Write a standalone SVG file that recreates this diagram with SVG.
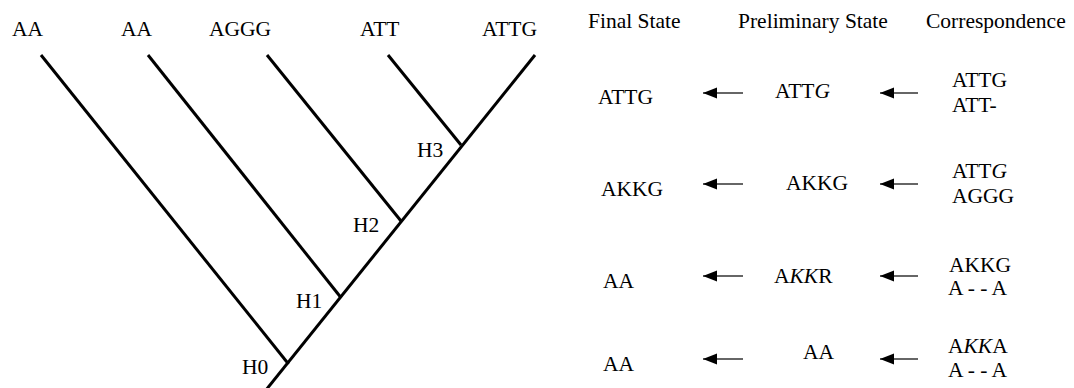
<svg xmlns="http://www.w3.org/2000/svg" width="1074" height="388" viewBox="0 0 1074 388">
<style>
.t text{font-size:21.5px;fill:#000}
.i{font-style:italic}
.br{stroke:#000;stroke-width:3;fill:none}
.ar{stroke:#333;stroke-width:1.6;fill:none;marker-end:url(#ah)}
</style>
<defs>
<marker id="ah" markerUnits="userSpaceOnUse" markerWidth="16" markerHeight="14" refX="14" refY="6" orient="auto">
<path d="M0,0.5 L14,6 L0,11.5 Z" fill="#000"/>
</marker>
</defs>
<rect width="1074" height="388" fill="#fff"/>
<g id="connectors">
<line class="br" x1="535" y1="55" x2="266" y2="390"/>
<line class="br" x1="41" y1="55" x2="288.5" y2="364"/>
<line class="br" x1="148" y1="55" x2="340.5" y2="297"/>
<line class="br" x1="267" y1="55" x2="401" y2="221"/>
<line class="br" x1="388" y1="55" x2="461" y2="145"/>
<line class="ar" x1="743" y1="93" x2="703" y2="93"/>
<line class="ar" x1="918" y1="93" x2="880" y2="93"/>
<line class="ar" x1="743" y1="184" x2="703" y2="184"/>
<line class="ar" x1="918" y1="184" x2="880" y2="184"/>
<line class="ar" x1="743" y1="276" x2="703" y2="276"/>
<line class="ar" x1="918" y1="276" x2="880" y2="276"/>
<line class="ar" x1="743" y1="359" x2="703" y2="359"/>
<line class="ar" x1="918" y1="359" x2="880" y2="359"/>
</g>
<g class="t" font-family="Liberation Serif, Times New Roman, serif">
<g id="leaf1"><text x="12" y="36">AA</text></g>
<g id="leaf2"><text x="121" y="36">AA</text></g>
<g id="leaf3"><text x="209" y="36">AGGG</text></g>
<g id="leaf4"><text x="360" y="36">ATT</text></g>
<g id="leaf5"><text x="482" y="36">ATTG</text></g>
<g id="H0"><text x="242" y="374">H0</text></g>
<g id="H1"><text x="296" y="308">H1</text></g>
<g id="H2"><text x="353" y="232">H2</text></g>
<g id="H3"><text x="417" y="157">H3</text></g>
<g id="headers">
<text x="588" y="28">Final State</text>
<text x="738" y="28">Preliminary State</text>
<text x="926" y="28">Correspondence</text>
</g>
<g id="row1">
<text x="598" y="104">ATTG</text>
<text x="775" y="98">ATT<tspan class="i">G</tspan></text>
<text x="952" y="87">ATTG</text>
<text x="952" y="112">ATT-</text>
</g>
<g id="row2">
<text x="601" y="196">AKKG</text>
<text x="786" y="190">AKKG</text>
<text x="952" y="178">ATT<tspan class="i">G</tspan></text>
<text x="952" y="203">AGGG</text>
</g>
<g id="row3">
<text x="603" y="288">AA</text>
<text x="774" y="283">A<tspan class="i">KK</tspan>R</text>
<text x="949" y="272">AKKG</text>
<text x="948" y="295">A - - A</text>
</g>
<g id="row4">
<text x="603" y="371">AA</text>
<text x="803" y="359">AA</text>
<text x="948" y="353">A<tspan class="i">KK</tspan>A</text>
<text x="948" y="377">A - - A</text>
</g>
</g>
</svg>
